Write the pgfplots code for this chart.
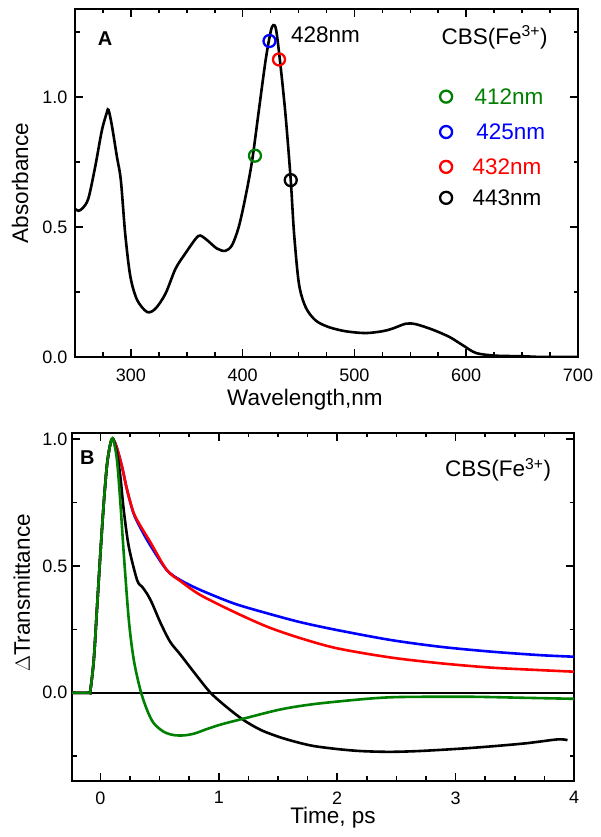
\documentclass[border=0pt]{standalone}
\usepackage{pgfplots}
\pgfplotsset{compat=1.18}
\usepackage{fontspec}
\setmainfont{Liberation Sans}
\begin{document}
\begin{tikzpicture}
\useasboundingbox (0,0) rectangle (601pt,837pt);
% Panel A
\begin{axis}[scale only axis,
  at={(75pt,480pt)}, anchor=south west,
  width=503pt, height=348pt,
  xmin=250, xmax=700, ymin=0, ymax=1.338,
  xtick={300,400,500,600,700}, minor xtick={275,325,350,375,425,450,475,525,550,575,625,650,675},
  xticklabels={300,400,500,600,700},
  ytick={0,0.5,1.0}, minor ytick={0.25,0.75,1.25}, yticklabels={0.0,0.5,1.0},
  major tick length=8pt, minor tick length=4.5pt,
  tick style={line width=1.6pt, black},
  axis line style={line width=2pt},
  tick label style={font=\fontsize{18}{20}\selectfont},
  label style={font=\fontsize{22.5}{25}\selectfont},
  xticklabel style={yshift=-8pt},
  yticklabel style={xshift=-4pt},
  xlabel={Wavelength,nm}, ylabel={Absorbance},
  xlabel style={at={(axis description cs:0.457,-0.124)}, anchor=center},
  ylabel style={at={(axis description cs:-0.109,0.5)}, anchor=center},
]
\addplot[black, line width=2.6pt, smooth] coordinates {
(250,0.57) (253,0.562) (257,0.573) (262,0.61) (268,0.73) (274,0.87) (278.5,0.94) (280,0.95)
(283,0.89) (287.5,0.77) (291,0.68) (295,0.47) (299.5,0.31) (305.5,0.22) (314.5,0.173)
(322,0.186) (331,0.244) (340,0.340) (349,0.40) (358,0.455) (362,0.467) (368,0.45)
(377,0.417) (384.5,0.408) (390.5,0.43) (396.5,0.50) (402.5,0.615) (408.5,0.756)
(414.5,0.949) (420.5,1.14) (425,1.25) (427.5,1.276) (430,1.256) (434,1.115) (438.5,0.923)
(443,0.68) (446,0.474) (450.4,0.28) (456.5,0.19) (465.4,0.14) (477,0.115) (492,0.099)
(510,0.092) (525,0.099) (534,0.109) (546,0.128) (555,0.126) (570,0.105) (585,0.077)
(597,0.045) (609,0.015) (627,0.005) (650,0.003) (668,0.0) (700,0.0)
};
\addplot[only marks, mark=o, mark size=6pt, color=green!50!black, mark options={line width=2.3pt}] coordinates {(411,0.774)};
\addplot[only marks, mark=o, mark size=6pt, color=blue, mark options={line width=2.3pt}] coordinates {(424,1.215)};
\addplot[only marks, mark=o, mark size=6pt, color=red, mark options={line width=2.3pt}] coordinates {(432.5,1.144)};
\addplot[only marks, mark=o, mark size=6pt, color=black, mark options={line width=2.3pt}] coordinates {(443,0.68)};
% key
\addplot[only marks, mark=o, mark size=6pt, color=green!50!black, mark options={line width=2.3pt}] coordinates {(582,1.001)};
\addplot[only marks, mark=o, mark size=6pt, color=blue, mark options={line width=2.3pt}] coordinates {(582,0.865)};
\addplot[only marks, mark=o, mark size=6pt, color=red, mark options={line width=2.3pt}] coordinates {(582,0.731)};
\addplot[only marks, mark=o, mark size=6pt, color=black, mark options={line width=2.3pt}] coordinates {(582,0.612)};
\node[anchor=west, inner sep=0pt, text=green!50!black, font=\fontsize{22.5}{25}\selectfont] at (axis cs:607.4,1.001) {412nm};
\node[anchor=west, inner sep=0pt, text=blue, font=\fontsize{22.5}{25}\selectfont] at (axis cs:608.9,0.865) {425nm};
\node[anchor=west, inner sep=0pt, text=red, font=\fontsize{22.5}{25}\selectfont] at (axis cs:605.6,0.731) {432nm};
\node[anchor=west, inner sep=0pt, text=black, font=\fontsize{22.5}{25}\selectfont] at (axis cs:605.6,0.612) {443nm};
\node[anchor=west, inner sep=0pt, font=\fontsize{22.5}{25}\selectfont] at (axis cs:443.2,1.238) {428nm};
\node[anchor=west, inner sep=0pt, font=\fontsize{22.5}{25}\selectfont] at (axis cs:577.8,1.23) {CBS(Fe\textsuperscript{3+})};
\node[inner sep=0pt, font=\fontsize{20}{22}\selectfont\bfseries] at (axis cs:277,1.223) {A};
\end{axis}
% Panel B
\begin{axis}[scale only axis,
  at={(72pt,56pt)}, anchor=south west,
  width=502pt, height=348pt,
  xmin=-0.24, xmax=4, ymin=-0.348, ymax=1.024,
  xtick={0,1,2,3,4}, minor xtick={0.25,0.5,0.75,1.25,1.5,1.75,2.25,2.5,2.75,3.25,3.5,3.75},
  xticklabels={0,1,2,3,4},
  ytick={0,0.5,1.0}, minor ytick={-0.25,0.25,0.75}, yticklabels={0.0,0.5,1.0},
  major tick length=8pt, minor tick length=4.5pt,
  tick style={line width=1.6pt, black},
  axis line style={line width=2pt},
  tick label style={font=\fontsize{18}{20}\selectfont},
  label style={font=\fontsize{22.5}{25}\selectfont},
  xticklabel style={yshift=-7pt},
  yticklabel style={xshift=-1pt},
  xlabel={Time, ps}, ylabel={$\Delta$Transmittance},
  xlabel style={at={(axis description cs:0.52,-0.105)}, anchor=center},
  ylabel style={at={(axis description cs:-0.1,0.54)}, anchor=center},
]
\addplot[black, line width=2pt] coordinates {(-0.24,0) (4,0)};
\addplot[color=blue, line width=2.6pt, smooth] coordinates {
(-0.24,0) (-0.1,0) (-0.085,0.01) (-0.056,0.129) (-0.028,0.34) (0,0.55) (0.028,0.745) (0.056,0.90) (0.085,0.983) (0.107,1.0)
(0.14,0.964) (0.183,0.89) (0.225,0.80) (0.28,0.707) (0.338,0.650) (0.42,0.582) (0.56,0.484) (0.676,0.444)
(0.845,0.405) (1.127,0.352) (1.41,0.313) (1.69,0.278) (2.0,0.247) (2.45,0.208) (2.874,0.181) (3.30,0.162) (3.72,0.148) (4.0,0.142)
};
\addplot[color=red, line width=2.6pt, smooth] coordinates {
(-0.24,0) (-0.1,0) (-0.085,0.01) (-0.056,0.129) (-0.028,0.34) (0,0.55) (0.028,0.745) (0.056,0.90) (0.085,0.983) (0.107,1.0)
(0.14,0.964) (0.183,0.89) (0.225,0.80) (0.28,0.710) (0.338,0.658) (0.42,0.595) (0.56,0.484) (0.676,0.440)
(0.845,0.385) (1.127,0.319) (1.41,0.26) (1.69,0.215) (2.0,0.175) (2.45,0.139) (2.874,0.116) (3.30,0.099) (3.72,0.089) (4.0,0.083)
};
\addplot[black, line width=2.6pt, smooth] coordinates {
(-0.24,0) (-0.1,0) (-0.085,0.01) (-0.056,0.129) (-0.028,0.34) (0,0.55) (0.028,0.745) (0.056,0.90) (0.085,0.983) (0.107,1.0)
(0.14,0.943) (0.169,0.85) (0.197,0.72) (0.24,0.575) (0.31,0.444) (0.352,0.418) (0.394,0.39) (0.437,0.352)
(0.51,0.273) (0.59,0.200) (0.676,0.150) (0.80,0.075) (0.93,0.0) (1.07,-0.058) (1.21,-0.108)
(1.36,-0.148) (1.52,-0.176) (1.66,-0.195) (1.80,-0.21) (2.0,-0.222) (2.2,-0.230) (2.45,-0.233) (2.73,-0.229)
(3.15,-0.217) (3.58,-0.20) (3.86,-0.184) (3.945,-0.187)
};
\addplot[color=green!50!black, line width=2.6pt, smooth] coordinates {
(-0.24,0) (-0.1,0) (-0.085,0.01) (-0.056,0.129) (-0.028,0.34) (0,0.55) (0.028,0.745) (0.056,0.90) (0.085,0.983) (0.107,1.0)
(0.14,0.917) (0.169,0.746) (0.197,0.55) (0.24,0.286) (0.282,0.129) (0.338,0.01) (0.394,-0.068) (0.45,-0.12)
(0.535,-0.154) (0.62,-0.167) (0.71,-0.168) (0.80,-0.160) (0.90,-0.143) (1.02,-0.125) (1.21,-0.102) (1.52,-0.066)
(1.80,-0.045) (2.2,-0.026) (2.45,-0.018) (2.73,-0.016) (3.15,-0.016) (3.58,-0.02) (4.0,-0.024)
};
\node[anchor=west, inner sep=0pt, font=\fontsize{22.5}{25}\selectfont] at (axis cs:2.91,0.878) {CBS(Fe\textsuperscript{3+})};
\node[inner sep=0pt, font=\fontsize{20}{22}\selectfont\bfseries] at (axis cs:-0.11,0.926) {B};
\end{axis}
\end{tikzpicture}
\end{document}
